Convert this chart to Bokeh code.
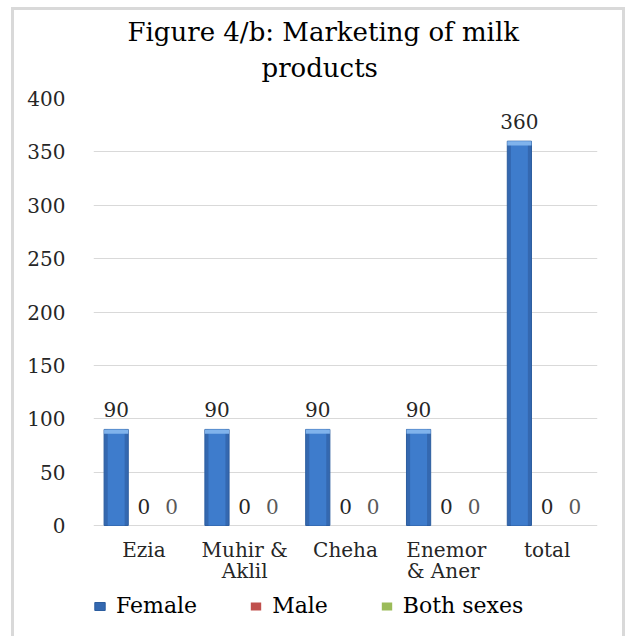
from bokeh.plotting import figure
from bokeh.layouts import column
from bokeh.models import (ColumnDataSource, FactorRange, Range1d, Legend, LegendItem,
                          LabelSet, FixedTicker, Title)
from bokeh.transform import dodge
from bokeh.core.properties import value
from bokeh.embed import file_html
from bokeh.resources import INLINE

# ---- data ----
categories = ["Ezia", "Muhir &\nAklil", "Cheha", "Enemor\n&  Aner", "total"]
female = [90, 90, 90, 90, 360]
male = [0, 0, 0, 0, 0]
both_sexes = [0, 0, 0, 0, 0]
series_names = ["Female", "Male", "Both sexes"]
y_ticks = [0, 50, 100, 150, 200, 250, 300, 350, 400]
title_lines = ["Figure 4/b: Marketing of milk", "products"]

FONT = "DejaVu Serif"
TXT = "#262626"

cat_lines = [c.split("\n") for c in categories]
src = ColumnDataSource(dict(
    cat=categories,
    line1=[l[0] for l in cat_lines],
    line2=[l[1] if len(l) > 1 else "" for l in cat_lines],
    female=female,
    male=male,
    both=both_sexes,
    zero=[0] * len(categories),
    female_cap=[v - 4 for v in female],
    female_lbl=[str(v) for v in female],
    male_lbl=[str(v) for v in male],
    both_lbl=[str(v) for v in both_sexes],
))

# frame spans from the 400 gridline down to the bottom of the window;
# value 0 sits 111 px above the frame bottom (px per unit = 427/400)
y_bottom = -111 * 400 / 427

p = figure(x_range=FactorRange(*categories), y_range=Range1d(y_bottom, 400),
           width=608, height=626, output_backend="svg", toolbar_location=None,
           x_axis_location=None,
           min_border_left=79, min_border_right=25, min_border_top=88, min_border_bottom=0)

def style_title(t):
    t.align = "left"
    t.text_font = FONT
    t.text_font_size = "26px"
    t.text_font_style = "normal"
    t.text_color = "black"

p.title.text = title_lines[0]
style_title(p.title)
p.title.offset = 34
p.title.standoff = -24
t2 = Title(text=title_lines[1])
style_title(t2)
t2.offset = 168
t2.standoff = 32
p.add_layout(t2, "above")

off = 0.275
w = 0.24
r_f = p.vbar(x=dodge("cat", -off, range=p.x_range), top="female", width=w, source=src,
             fill_color="#3468b0", line_color="#2c5d9f", line_width=1)
p.vbar(x=dodge("cat", -off, range=p.x_range), top="female", width=w * 0.7, source=src,
       fill_color="#3e7ccc", line_color=None)
p.vbar(x=dodge("cat", -off, range=p.x_range), top="female", bottom="female_cap", width=w,
       source=src, fill_color="#80b3ec", line_color=None)
r_m = p.vbar(x=dodge("cat", 0, range=p.x_range), top="male", width=w, source=src,
             fill_color="#c0504d", line_color=None)
r_b = p.vbar(x=dodge("cat", off, range=p.x_range), top="both", width=w, source=src,
             fill_color="#9bbb59", line_color=None)

for col, dx, lbl, color in [("female", -off, "female_lbl", TXT),
                            ("male", 0, "male_lbl", TXT),
                            ("both", off, "both_lbl", "#595959")]:
    p.add_layout(LabelSet(x=dodge("cat", dx, range=p.x_range), y=col, text=lbl, source=src,
                          text_align="center", text_baseline="alphabetic", y_offset=12,
                          text_font=value(FONT), text_font_size=value("20px"),
                          text_color=color))

# category labels (x axis), each line centred
for fld, yo in [("line1", -12), ("line2", -33)]:
    p.add_layout(LabelSet(x="cat", y="zero", text=fld, source=src,
                          text_align="center", text_baseline="top", y_offset=yo,
                          text_font=value(FONT), text_font_size=value("20px"),
                          text_color=TXT))

p.yaxis.ticker = FixedTicker(ticks=y_ticks)
p.yaxis.axis_line_color = None
p.yaxis.major_tick_line_color = None
p.yaxis.minor_tick_line_color = None
p.yaxis.major_label_standoff = 22
p.yaxis.major_label_text_font = FONT
p.yaxis.major_label_text_font_size = "20px"
p.yaxis.major_label_text_color = TXT

p.xgrid.grid_line_color = None
p.ygrid.grid_line_color = "#d9d9d9"
p.ygrid.ticker = FixedTicker(ticks=y_ticks)
p.outline_line_color = None
p.x_range.range_padding = 0

legend = Legend(items=[LegendItem(label=series_names[0], renderers=[r_f]),
                       LegendItem(label=series_names[1], renderers=[r_m]),
                       LegendItem(label=series_names[2], renderers=[r_b])],
                orientation="horizontal", location=(0, 18),
                label_text_font=FONT, label_text_font_size="22px", label_text_color="black",
                glyph_width=13, glyph_height=10, label_standoff=10, spacing=52,
                padding=0, margin=0, border_line_color=None, background_fill_alpha=0)
p.add_layout(legend, "center")

layout = column(p, styles={"border": "3px solid #d9d9d9", "margin-left": "11px",
                           "margin-top": "7px"})

open("out.html", "w").write(file_html(layout, INLINE))
